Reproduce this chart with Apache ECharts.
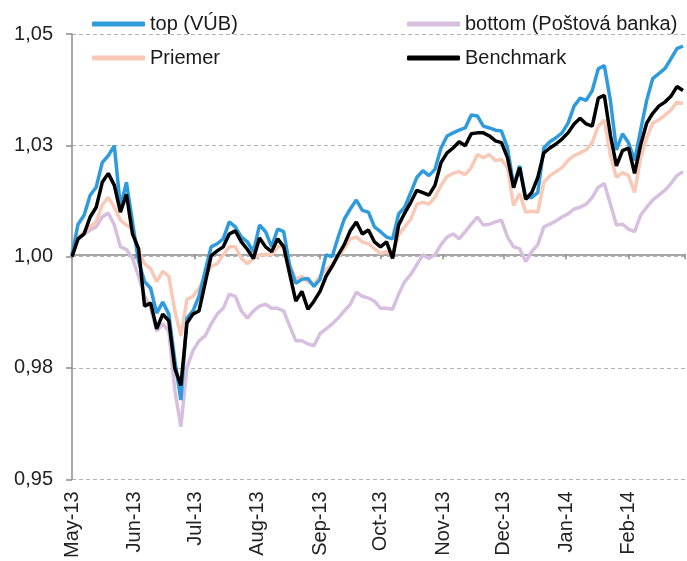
<!DOCTYPE html>
<html>
<head>
<meta charset="utf-8">
<script src="https://cdn.jsdelivr.net/npm/echarts@6/dist/echarts.min.js"></script>
<style>
  html, body { margin: 0; padding: 0; background: #fff; }
  #chart { width: 687px; height: 561px; }
</style>
</head>
<body>
<div id="chart"></div>
<script>
// dates: one sample every 3 days from 1 May 2013
const startDate = [2013, 4, 1];
const stepDays = 3;

const tickLabels = ['May-13', 'Jun-13', 'Jul-13', 'Aug-13', 'Sep-13', 'Oct-13', 'Nov-13', 'Dec-13', 'Jan-14', 'Feb-14'];
const yTickLabels = ['0,95', '0,98', '1,00', '1,03', '1,05'];

const topVub = [
  1.0004, 1.0073, 1.0093, 1.0138, 1.0156, 1.0211, 1.0227, 1.0249, 1.0111, 1.0167,
  1.0078, 0.9989, 0.9944, 0.9929, 0.9873, 0.9898, 0.9871, 0.9767, 0.9678, 0.9862,
  0.9878, 0.9911, 0.9967, 1.0022, 1.0029, 1.0040, 1.0078, 1.0067, 1.0044, 1.0033,
  1.0011, 1.0071, 1.0056, 1.0022, 1.0062, 1.0056, 0.9978, 0.9940, 0.9949, 0.9951,
  0.9933, 0.9949, 1.0004, 1.0000, 1.0044, 1.0084, 1.0107, 1.0127, 1.0104, 1.0100,
  1.0067, 1.0056, 1.0044, 1.0040, 1.0096, 1.0111, 1.0144, 1.0178, 1.0193, 1.0182,
  1.0196, 1.0244, 1.0271, 1.0278, 1.0284, 1.0289, 1.0318, 1.0316, 1.0293, 1.0289,
  1.0284, 1.0282, 1.0244, 1.0160, 1.0204, 1.0133, 1.0133, 1.0144, 1.0244, 1.0258,
  1.0267, 1.0278, 1.0300, 1.0338, 1.0356, 1.0351, 1.0373, 1.0422, 1.0429, 1.0351,
  1.0240, 1.0276, 1.0256, 1.0216, 1.0284, 1.0351, 1.0400, 1.0411, 1.0422, 1.0444,
  1.0467, 1.0473
];

const bottomPb = [
  1.0011, 1.0040, 1.0051, 1.0060, 1.0067, 1.0089, 1.0098, 1.0071, 1.0022, 1.0016,
  0.9996, 0.9956, 0.9911, 0.9884, 0.9833, 0.9849, 0.9833, 0.9700, 0.9618, 0.9751,
  0.9789, 0.9811, 0.9822, 0.9849, 0.9871, 0.9884, 0.9916, 0.9911, 0.9878, 0.9862,
  0.9878, 0.9889, 0.9893, 0.9884, 0.9884, 0.9878, 0.9844, 0.9811, 0.9811, 0.9804,
  0.9800, 0.9827, 0.9838, 0.9849, 0.9862, 0.9878, 0.9893, 0.9920, 0.9911, 0.9907,
  0.9900, 0.9884, 0.9884, 0.9882, 0.9916, 0.9944, 0.9960, 0.9982, 1.0004, 0.9996,
  1.0004, 1.0027, 1.0044, 1.0051, 1.0040, 1.0056, 1.0073, 1.0089, 1.0071, 1.0073,
  1.0078, 1.0082, 1.0044, 1.0022, 1.0018, 0.9989, 1.0011, 1.0027, 1.0067, 1.0073,
  1.0080, 1.0089, 1.0096, 1.0107, 1.0111, 1.0118, 1.0133, 1.0156, 1.0164, 1.0118,
  1.0071, 1.0073, 1.0062, 1.0056, 1.0093, 1.0111, 1.0127, 1.0138, 1.0149, 1.0164,
  1.0182, 1.0191
];

const priemer = [
  1.0004, 1.0044, 1.0056, 1.0067, 1.0078, 1.0116, 1.0133, 1.0111, 1.0082, 1.0071,
  1.0062, 1.0011, 0.9984, 0.9973, 0.9944, 0.9967, 0.9956, 0.9878, 0.9822, 0.9904,
  0.9911, 0.9929, 0.9956, 0.9978, 0.9984, 1.0004, 1.0022, 1.0022, 0.9996, 0.9984,
  0.9996, 1.0004, 1.0004, 1.0004, 1.0022, 1.0022, 0.9982, 0.9949, 0.9956, 0.9944,
  0.9938, 0.9956, 0.9971, 0.9982, 1.0000, 1.0018, 1.0040, 1.0044, 1.0033, 1.0029,
  1.0018, 1.0007, 1.0011, 1.0004, 1.0049, 1.0067, 1.0084, 1.0118, 1.0122, 1.0118,
  1.0133, 1.0160, 1.0180, 1.0187, 1.0191, 1.0184, 1.0200, 1.0229, 1.0222, 1.0229,
  1.0216, 1.0218, 1.0200, 1.0115, 1.0142, 1.0100, 1.0102, 1.0100, 1.0167, 1.0182,
  1.0191, 1.0200, 1.0216, 1.0227, 1.0233, 1.0240, 1.0256, 1.0293, 1.0307, 1.0227,
  1.0178, 1.0189, 1.0182, 1.0144, 1.0222, 1.0267, 1.0300, 1.0307, 1.0318, 1.0329,
  1.0347, 1.0344
];

const benchmark = [
  1.0000, 1.0040, 1.0051, 1.0089, 1.0111, 1.0167, 1.0187, 1.0160, 1.0100, 1.0140,
  1.0051, 1.0018, 0.9889, 0.9896, 0.9838, 0.9871, 0.9856, 0.9749, 0.9711, 0.9851,
  0.9871, 0.9878, 0.9940, 1.0002, 1.0013, 1.0022, 1.0051, 1.0058, 1.0033, 1.0016,
  0.9996, 1.0042, 1.0022, 1.0011, 1.0040, 1.0022, 0.9960, 0.9900, 0.9922, 0.9882,
  0.9900, 0.9922, 0.9956, 0.9978, 1.0004, 1.0027, 1.0058, 1.0078, 1.0051, 1.0060,
  1.0033, 1.0022, 1.0033, 0.9996, 1.0071, 1.0098, 1.0122, 1.0149, 1.0144, 1.0138,
  1.0160, 1.0211, 1.0233, 1.0244, 1.0258, 1.0249, 1.0276, 1.0278, 1.0278, 1.0271,
  1.0260, 1.0256, 1.0222, 1.0155, 1.0200, 1.0129, 1.0144, 1.0178, 1.0233, 1.0244,
  1.0253, 1.0264, 1.0278, 1.0298, 1.0311, 1.0298, 1.0293, 1.0356, 1.0362, 1.0273,
  1.0204, 1.0238, 1.0244, 1.0187, 1.0251, 1.0300, 1.0322, 1.0338, 1.0347, 1.0360,
  1.0382, 1.0373
];

const DAY = 86400000;
const t0 = new Date(startDate[0], startDate[1], startDate[2]).getTime();
const dates = topVub.map((_, i) => t0 + i * stepDays * DAY);
const pairs = arr => arr.map((v, i) => [dates[i], v]);

const axisMin = new Date(2013, 4, 1).getTime();
const axisMax = new Date(2014, 2, 1).getTime();

const chart = echarts.init(document.getElementById('chart'));

const font = 'Liberation Sans, Arial, sans-serif';
const lineW = 3.5;

const option = {
  animation: false,
  backgroundColor: '#fff',
  textStyle: { fontFamily: font },
  legend: [
    {
      left: 87, top: 9, orient: 'vertical', itemGap: 14,
      itemWidth: 53, itemHeight: 5, icon: 'roundRect',
      textStyle: { fontSize: 20, color: '#1a1a1a', fontFamily: font },
      data: ['top (VÚB)', 'Priemer']
    },
    {
      left: 402, top: 9, orient: 'vertical', itemGap: 14,
      itemWidth: 53, itemHeight: 5, icon: 'roundRect',
      textStyle: { fontSize: 20, color: '#1a1a1a', fontFamily: font },
      data: ['bottom (Poštová banka)', 'Benchmark']
    }
  ],
  grid: { left: 72, right: 2, top: 34, bottom: 77, containLabel: false },
  xAxis: [
    {
      type: 'time', min: axisMin, max: axisMax,
      minInterval: 28 * DAY, maxInterval: 31 * DAY,
      axisLine: { show: false },
      axisTick: { show: false },
      splitLine: { show: false },
      axisLabel: {
        rotate: 90, fontSize: 20, color: '#222', margin: 12,
        hideOverlap: false,
        formatter: function (val) {
          const d = new Date(val);
          const idx = (d.getFullYear() - 2013) * 12 + d.getMonth() - 4;
          return tickLabels[idx] || '';
        }
      }
    },
    {
      type: 'time', min: axisMin, max: axisMax,
      minInterval: 28 * DAY, maxInterval: 31 * DAY,
      position: 'bottom', offset: -225,
      axisLine: { show: true, lineStyle: { color: '#8c8c8c', width: 1.5 } },
      axisTick: { show: true, length: 5, lineStyle: { color: '#8c8c8c', width: 1.5 } },
      axisLabel: { show: false },
      splitLine: { show: false }
    }
  ],
  yAxis: {
    type: 'value', min: 0.95, max: 1.05, interval: 0.025,
    axisLine: { show: true, lineStyle: { color: '#8c8c8c', width: 1.5 } },
    axisTick: { show: true, length: 6, lineStyle: { color: '#8c8c8c', width: 1.5 } },
    splitLine: { show: true, lineStyle: { color: '#b4b4b4', type: [4, 3], width: 1 } },
    axisLabel: {
      fontSize: 20, color: '#222', margin: 19,
      formatter: function (v) {
        return yTickLabels[Math.round((v - 0.95) / 0.025)];
      }
    }
  },
  series: [
    {
      name: 'bottom (Poštová banka)', type: 'line', data: pairs(bottomPb),
      showSymbol: false, symbol: 'none', color: '#d7c0df',
      lineStyle: { width: lineW, color: '#d7c0df' }
    },
    {
      name: 'Priemer', type: 'line', data: pairs(priemer),
      showSymbol: false, symbol: 'none', color: '#f8c9b7',
      lineStyle: { width: lineW, color: '#f8c9b7' }
    },
    {
      name: 'top (VÚB)', type: 'line', data: pairs(topVub),
      showSymbol: false, symbol: 'none', color: '#2f9bdc',
      lineStyle: { width: lineW, color: '#2f9bdc' }
    },
    {
      name: 'Benchmark', type: 'line', data: pairs(benchmark),
      showSymbol: false, symbol: 'none', color: '#000',
      lineStyle: { width: lineW, color: '#000' }
    }
  ]
};

chart.setOption(option);
</script>
</body>
</html>
